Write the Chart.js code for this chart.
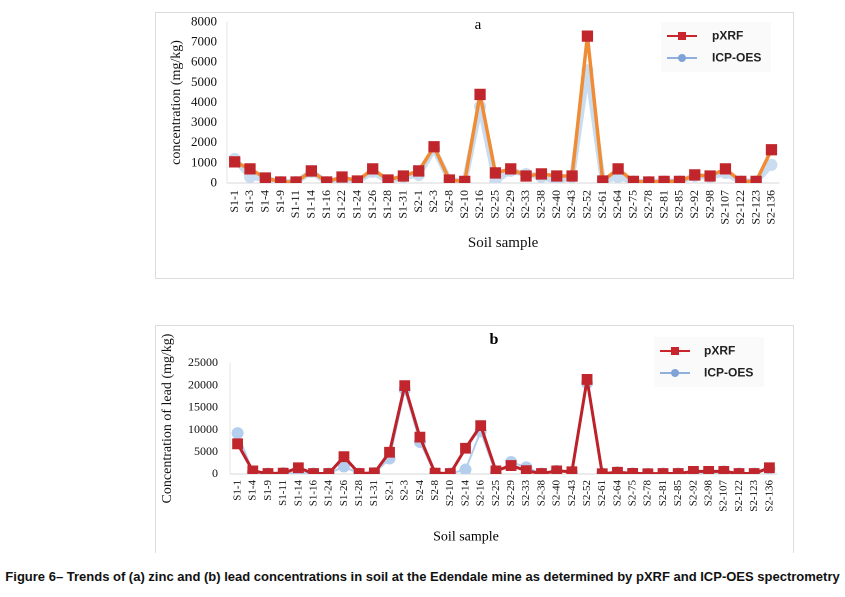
<!DOCTYPE html>
<html>
<head>
<meta charset="utf-8">
<script src="https://cdn.jsdelivr.net/npm/chart.js@4"></script>
<style>
  body { margin: 0; background: #fff; width: 845px; height: 597px; position: relative; overflow: hidden; }
  .box { position: absolute; border: 1px solid #dcdcdc; box-sizing: border-box; }
  #boxA { left: 155px; top: 12px; width: 639px; height: 267px; }
  #boxB { left: 155px; top: 325px; width: 639px; height: 228px; border-bottom: none; }
  canvas { position: absolute; }
  #caption { position: absolute; left: 0; top: 569px; width: 845px; text-align: center;
    font: bold 13px "Liberation Sans Narrow", "Liberation Sans", Arial, sans-serif; color: #111; white-space: nowrap; }
</style>
</head>
<body>
<div class="box" id="boxA"></div>
<div class="box" id="boxB"></div>
<canvas id="zinc" style="left:155px;top:12px;width:638px;height:266px"></canvas>
<canvas id="lead" style="left:155px;top:325px;width:638px;height:228px"></canvas>
<div id="caption">Figure 6– Trends of (a) zinc and (b) lead concentrations in soil at the Edendale mine as determined by pXRF and ICP-OES spectrometry</div>
<script>
// zinc (a)
const zincSamples = ['S1-1','S1-3','S1-4','S1-9','S1-11','S1-14','S1-16','S1-22','S1-24','S1-26','S1-28','S1-31',
  'S2-1','S2-3','S2-8','S2-10','S2-16','S2-25','S2-29','S2-33','S2-38','S2-40','S2-43','S2-52','S2-61','S2-64',
  'S2-75','S2-78','S2-81','S2-85','S2-92','S2-98','S2-107','S2-122','S2-123','S2-136'];
const zincPxrf = [1050, 700, 250, 50, 50, 600, 50, 300, 100, 700, 150, 350,
  600, 1800, 150, 80, 4400, 500, 700, 350, 450, 350, 350, 7300, 100, 700,
  80, 50, 80, 80, 400, 350, 700, 80, 80, 1650];
const zincIcp = [1200, 300, 200, 50, 50, 550, 50, 200, 80, 550, 100, 300,
  400, 1700, 150, 80, 3800, 100, 600, 450, 300, 100, 300, 5600, 100, 300,
  80, 50, 80, 80, 350, 300, 500, 80, 80, 900];
const zincTicks = [0, 1000, 2000, 3000, 4000, 5000, 6000, 7000, 8000];

// lead (b)
const leadSamples = ['S1-1','S1-4','S1-9','S1-11','S1-14','S1-16','S1-24','S1-26','S1-28','S1-31',
  'S2-1','S2-3','S2-4','S2-8','S2-10','S2-14','S2-16','S2-25','S2-29','S2-33','S2-38','S2-40','S2-43','S2-52',
  'S2-61','S2-64','S2-75','S2-78','S2-81','S2-85','S2-92','S2-98','S2-107','S2-122','S2-123','S2-136'];
const leadPxrf = [6800, 700, 100, 200, 1400, 100, 100, 3900, 100, 250,
  4900, 19900, 8300, 200, 100, 5800, 10900, 700, 1900, 750, 100, 700, 500, 21300,
  50, 400, 150, 50, 100, 100, 600, 600, 600, 100, 100, 1400];
const leadIcp = [9200, 300, 100, 200, 200, 100, 100, 1700, 100, 200,
  3500, 19000, 7200, 100, 100, 1000, 9600, 100, 2700, 1500, 100, 700, 400, 20500,
  100, 400, 150, 50, 100, 100, 400, 100, 600, 100, 100, 1200];
const leadTicks = [0, 5000, 10000, 15000, 20000, 25000];

const serif = '"Liberation Serif", "Times New Roman", serif';
const sans = '"Liberation Sans", Arial, sans-serif';

// legend, panel letter and loose titles drawn at fixed spots
function extras(opt) {
  return {
    id: 'extras',
    afterDraw(chart) {
      const c = chart.ctx;
      c.save();
      c.fillStyle = '#000';
      c.textAlign = 'center';
      c.textBaseline = 'middle';
      c.font = opt.letterFont;
      c.fillText(opt.letter, opt.letterX, opt.letterY);
      if (opt.xTitle) {
        c.font = opt.xTitle.font;
        c.fillText('Soil sample', opt.xTitle.x, opt.xTitle.y);
      }
      const L = opt.legend;
      c.fillStyle = 'rgba(240,240,240,0.35)';
      c.fillRect(L.x - 6, L.y - 14, 110, L.gap + 28);
      // pXRF
      c.strokeStyle = '#c8262c'; c.lineWidth = 2;
      c.beginPath(); c.moveTo(L.x, L.y); c.lineTo(L.x + 30, L.y); c.stroke();
      c.fillStyle = '#c8262c';
      c.fillRect(L.x + 11, L.y - 4, 8, 8);
      // ICP-OES
      c.strokeStyle = '#8fb0dc';
      c.beginPath(); c.moveTo(L.x, L.y + L.gap); c.lineTo(L.x + 30, L.y + L.gap); c.stroke();
      c.fillStyle = '#7fa3d6';
      c.beginPath(); c.arc(L.x + 15, L.y + L.gap, 4, 0, Math.PI * 2); c.fill();
      c.fillStyle = '#222';
      c.textAlign = 'left';
      c.font = 'bold 12px ' + sans;
      c.fillText('pXRF', L.tx, L.y);
      c.fillText('ICP-OES', L.tx, L.y + L.gap);
      c.restore();
    }
  };
}

function makeChart(id, cfg) {
  return new Chart(document.getElementById(id), {
    type: 'line',
    data: {
      labels: cfg.labels,
      datasets: [{
        label: 'pXRF',
        data: cfg.pxrf,
        borderColor: cfg.pxrfLine,
        borderWidth: cfg.pxrfWidth,
        borderJoinStyle: 'round',
        backgroundColor: '#c0262c',
        pointBackgroundColor: '#c0262c',
        pointBorderColor: '#c0262c',
        pointStyle: 'rect',
        pointRadius: cfg.rect,
        tension: 0,
        order: 0
      }, {
        label: 'ICP-OES',
        data: cfg.icp,
        borderColor: cfg.icpLine,
        borderWidth: cfg.icpWidth,
        borderJoinStyle: 'round',
        backgroundColor: cfg.icpPoint,
        pointBackgroundColor: cfg.icpPoint,
        pointBorderColor: cfg.icpPoint,
        pointRadius: cfg.dot,
        tension: 0,
        order: 1
      }]
    },
    options: {
      responsive: false,
      animation: false,
      devicePixelRatio: 2,
      layout: { padding: cfg.padding },
      plugins: { legend: { display: false }, tooltip: { enabled: false } },
      scales: {
        x: {
          offset: true,
          grid: { display: false, drawTicks: false },
          border: { display: true, color: '#d6d6d6', width: 1 },
          ticks: {
            autoSkip: false, minRotation: 90, maxRotation: 90, padding: cfg.xPad,
            color: '#111', font: { family: serif, size: cfg.xFont }
          },
          title: cfg.xTitle ? {
            display: true, text: 'Soil sample', color: '#111',
            font: { family: serif, size: 15 }, padding: { top: 0, bottom: cfg.xTitle }
          } : { display: false },
          afterFit(s) { s.height = cfg.xHeight; }
        },
        y: {
          min: 0, max: cfg.ticks[cfg.ticks.length - 1],
          afterBuildTicks(s) { s.ticks = cfg.ticks.map(v => ({ value: v })); },
          grid: { display: false, drawTicks: false },
          border: { display: true, color: '#e4e4e4', width: 1 },
          ticks: {
            padding: cfg.yPad, color: '#111', font: { family: serif, size: cfg.yFont },
            callback: v => String(v)
          },
          title: {
            display: true, text: cfg.yTitle, color: '#111',
            font: { family: serif, size: 14 }, padding: { top: cfg.yTitlePad, bottom: 0 }
          },
          afterFit(s) { s.width = cfg.yWidth; s.paddingTop = 0; s.paddingBottom = 0; }
        }
      }
    },
    plugins: [extras(cfg.extras)]
  });
}

const za = document.getElementById('zinc'); za.width = 638; za.height = 266;
const lb = document.getElementById('lead'); lb.width = 638; lb.height = 228;

makeChart('zinc', {
  labels: zincSamples, pxrf: zincPxrf, icp: zincIcp, ticks: zincTicks,
  pxrfLine: '#ef8c35', pxrfWidth: 3.5, rect: 5.5,
  icpLine: '#c9dcf0', icpWidth: 6, icpPoint: '#c9dcf0', dot: 3,
  padding: { top: 8, right: 3, left: 0, bottom: 0 },
  xHeight: 95, yWidth: 72, xPad: 7, yPad: 10, xFont: 12, yFont: 13,
  xTitle: 26, yTitle: 'concentration (mg/kg)', yTitlePad: 13,
  extras: {
    letter: 'a', letterFont: '15px ' + serif, letterX: 323, letterY: 13,
    legend: { x: 512, y: 24, gap: 22, tx: 557 }
  }
});

makeChart('lead', {
  labels: leadSamples, pxrf: leadPxrf, icp: leadIcp, ticks: leadTicks,
  pxrfLine: '#bd2129', pxrfWidth: 3, rect: 5.5,
  icpLine: '#b4cfee', icpWidth: 2, icpPoint: '#b4cfee', dot: 5,
  padding: { top: 38, right: 16, left: 0, bottom: 0 },
  xHeight: 79, yWidth: 75, xPad: 6, yPad: 12, xFont: 11, yFont: 12,
  xTitle: null, yTitle: 'Concentration of lead (mg/kg)', yTitlePad: 4,
  extras: {
    letter: 'b', letterFont: 'bold 16px ' + serif, letterX: 339, letterY: 15,
    xTitle: { x: 311, y: 212, font: '14px ' + serif },
    legend: { x: 505, y: 26, gap: 22, tx: 549 }
  }
});
</script>
</body>
</html>
